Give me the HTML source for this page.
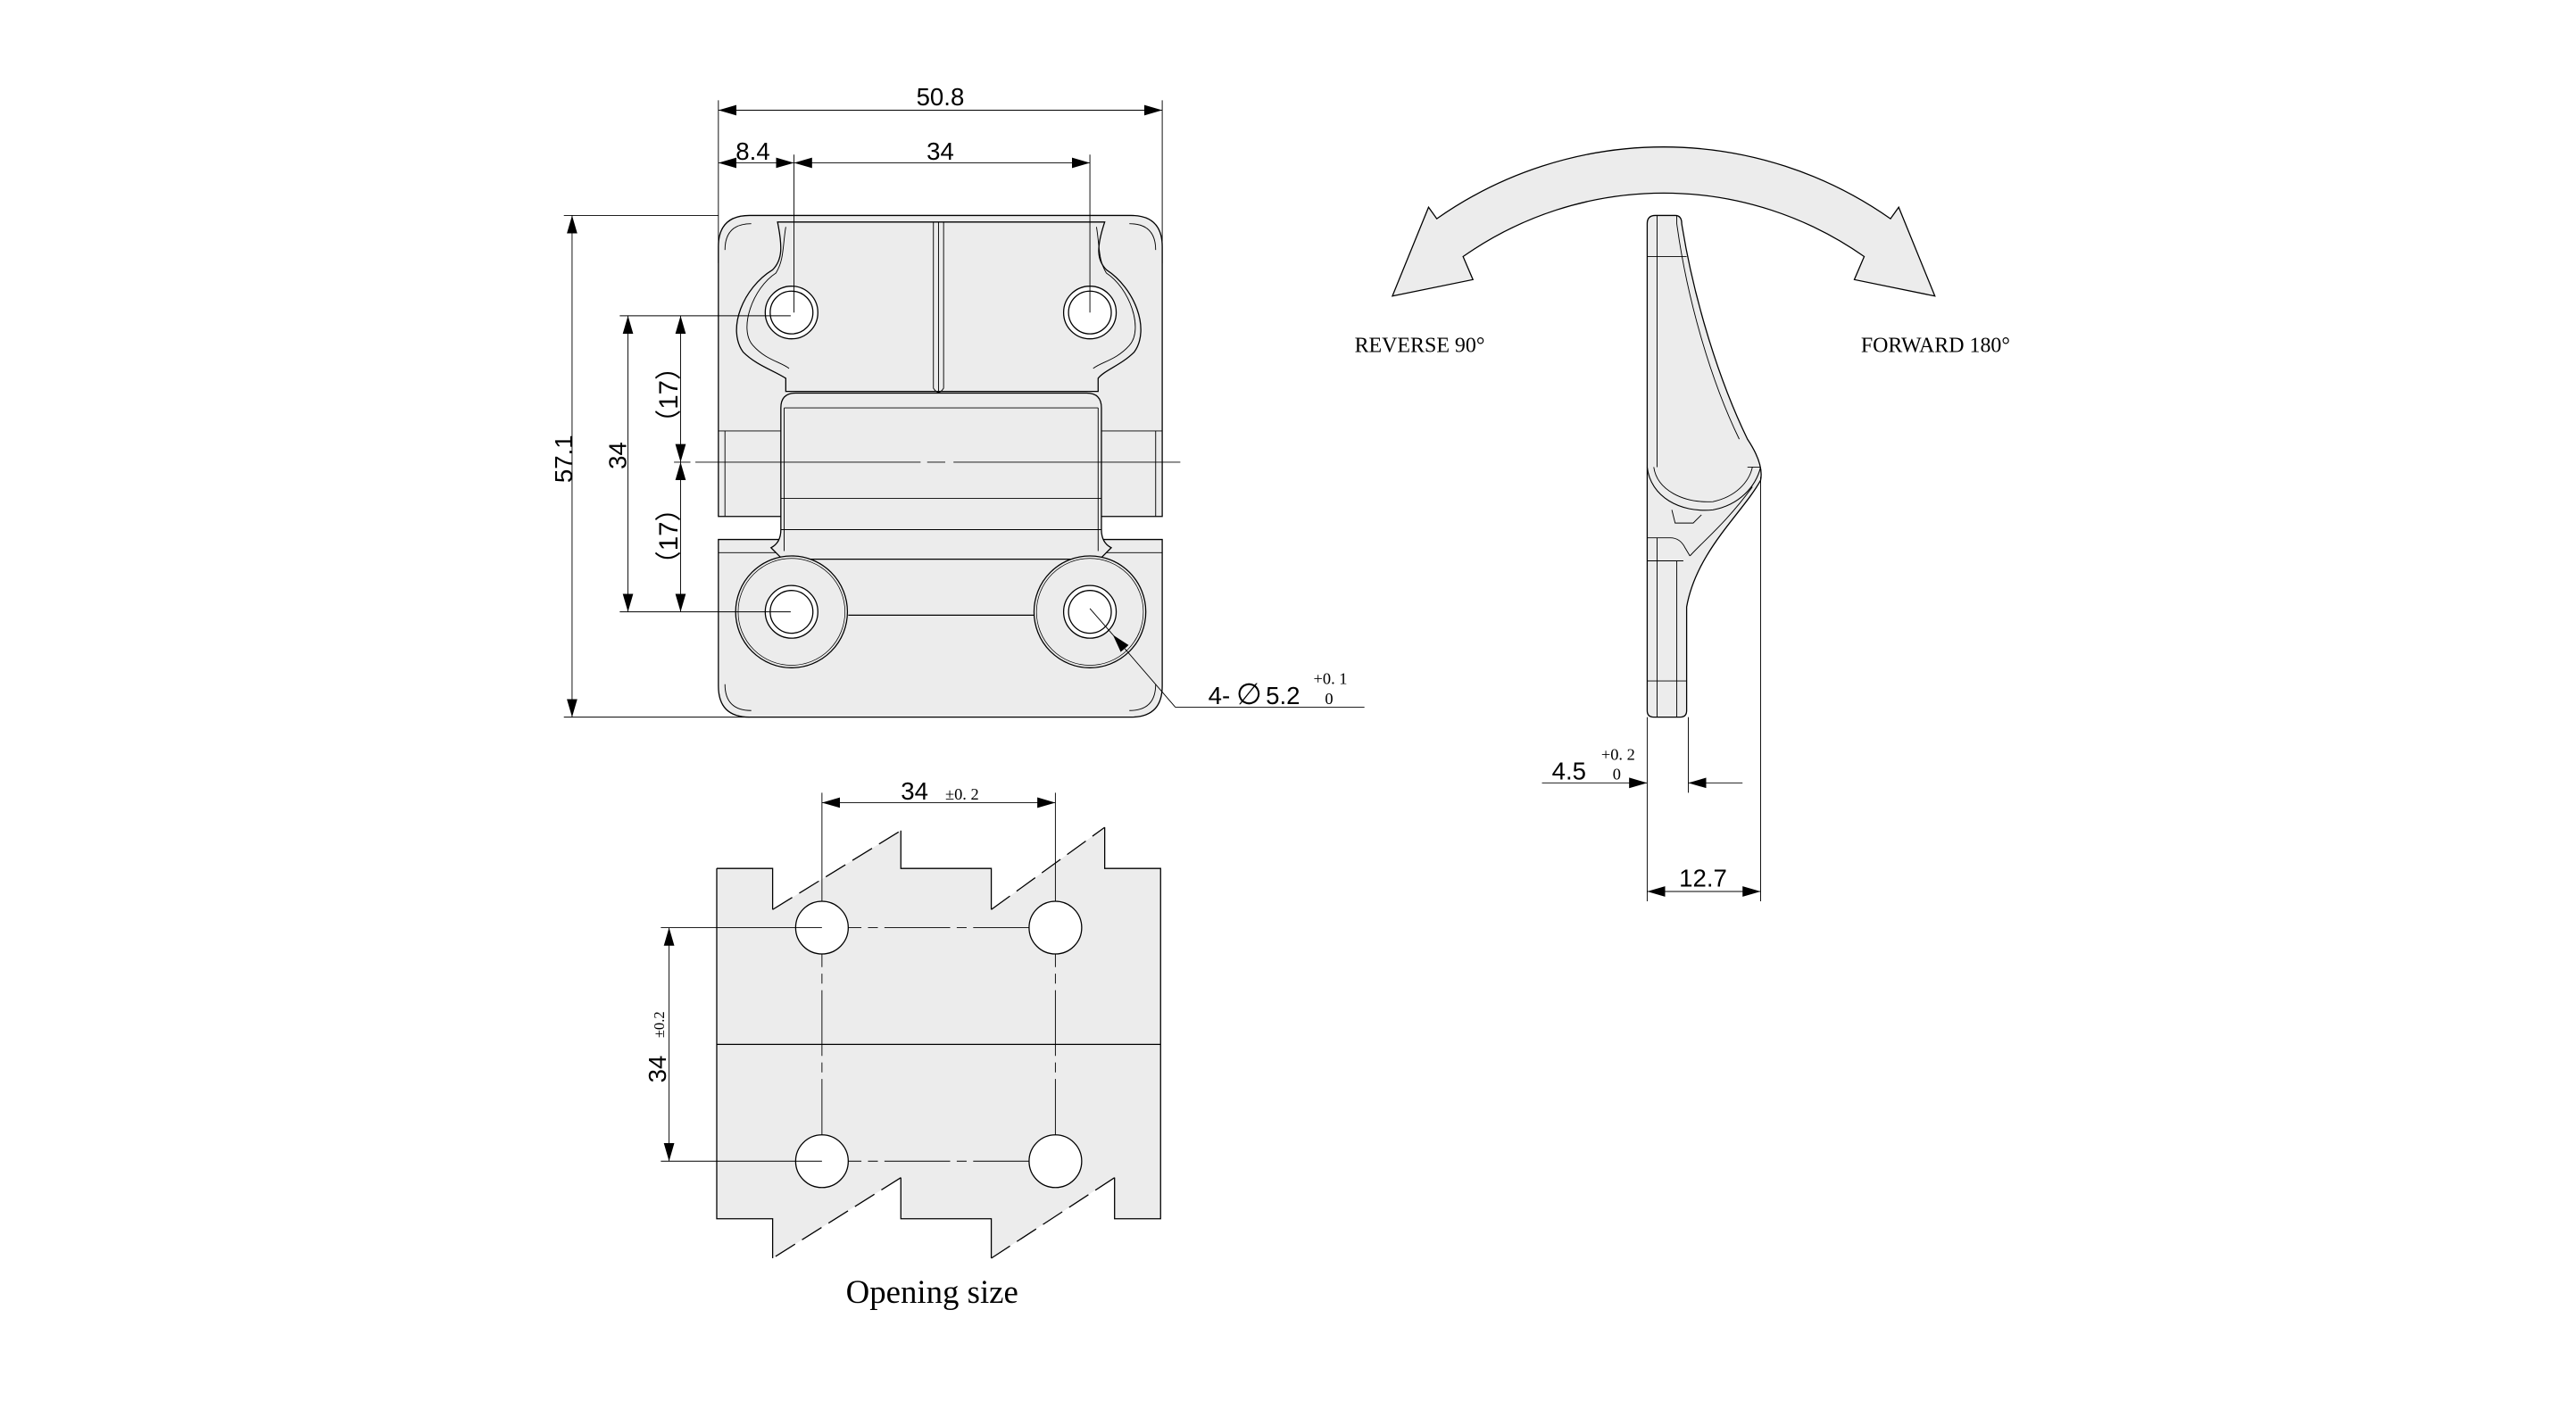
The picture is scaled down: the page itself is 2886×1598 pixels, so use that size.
<!DOCTYPE html>
<html><head><meta charset="utf-8"><style>
html,body{margin:0;padding:0;background:#fff}
svg{display:block}
text{font-family:"Liberation Sans",sans-serif;fill:#000}
.s{font-family:"Liberation Serif",serif}
</style></head><body>
<svg width="2886" height="1598" viewBox="0 0 1567 867" preserveAspectRatio="none" xmlns="http://www.w3.org/2000/svg">
<defs>
<marker id="a" markerUnits="userSpaceOnUse" markerWidth="12" markerHeight="8" refX="11" refY="4" orient="auto-start-reverse"><path d="M0,0.8 L11,4 L0,7.2Z" fill="#000"/></marker>
</defs>
<g stroke="#000" stroke-width="0.7" fill="none">
<!-- FRONT VIEW -->
<path d="M437,150 Q437,131 456,131 H688 Q707,131 707,150 V314 H437Z" fill="#ececec"/>
<path d="M437,328 H707 V417 Q707,436 688,436 H456 Q437,436 437,417Z" fill="#ececec"/>
<path d="M441,152 Q441,136 457,136 M703,152 Q703,136 687,136 M441,416 Q441,432 457,432 M703,416 Q703,432 687,432" stroke-width="0.5"/>
<path d="M437,262 H475 M669,262 H707 M441,262 V314 M703,262 V314 M437,336 H707" stroke-width="0.5"/>
<!-- upper leaf -->
<path d="M473,135 H672 C667,150 667,158 673,164 C690,175 700,200 690,214 C682,222 672,225 668,230 V238 H478 V230 C470,225 460,222 452,214 C442,200 452,175 470,164 C476,158 476,150 473,135Z" fill="#ececec"/>
<path d="M478,138 C476,150 477,158 472,166 C458,175 449,200 458,210 C466,219 475,220 480,224" stroke-width="0.5"/>
<path d="M667,138 C669,150 668,158 673,166 C687,175 696,200 687,210 C679,219 670,220 665,224" stroke-width="0.5"/>
<path d="M567.8,135 V236 Q570.9,241 574,236 V135 M570.9,135 V238" stroke-width="0.5"/>
<!-- barrel -->
<path d="M475,248 Q475,239 484,239 H661 Q670,239 670,248 V322 Q670,330 676,333 L669,340 H476 L469,333 Q475,330 475,322Z" fill="#ececec"/>
<path d="M477,248 H668 M475,303 H670 M475,322 H670 M477,248 V335 M668,248 V335" stroke-width="0.5"/>
<!-- bosses -->
<circle cx="481.5" cy="372" r="34" fill="#ececec"/><circle cx="481.5" cy="372" r="32.5" stroke-width="0.4"/>
<circle cx="663" cy="372" r="34" fill="#ececec"/><circle cx="663" cy="372" r="32.5" stroke-width="0.4"/>
<path d="M516,374 H629"/>
<circle cx="481.5" cy="190" r="16" fill="#fff"/><circle cx="481.5" cy="190" r="13"/>
<circle cx="663" cy="190" r="16" fill="#fff"/><circle cx="663" cy="190" r="13"/>
<circle cx="481.5" cy="372" r="16" fill="#fff"/><circle cx="481.5" cy="372" r="13"/>
<circle cx="663" cy="372" r="16" fill="#fff"/><circle cx="663" cy="372" r="13"/>
<!-- center line -->
<path d="M423,281 H560 M564,281 H575 M580,281 H718" stroke-width="0.5"/>
<!-- dims -->
<path d="M437,61 V160 M707,61 V160 M483,94 V190 M663,94 V190" stroke-width="0.5"/>
<path d="M437,67 H707" marker-start="url(#a)" marker-end="url(#a)" stroke-width="0.5"/>
<path d="M437,99 H483" marker-start="url(#a)" marker-end="url(#a)" stroke-width="0.5"/>
<path d="M483,99 H663" marker-start="url(#a)" marker-end="url(#a)" stroke-width="0.5"/>
<path d="M343,131 H437 M343,436 H456 M377,192 H481 M377,372 H481 M410,281 H420" stroke-width="0.5"/>
<path d="M348,131 V436" marker-start="url(#a)" marker-end="url(#a)" stroke-width="0.5"/>
<path d="M382,192 V372" marker-start="url(#a)" marker-end="url(#a)" stroke-width="0.5"/>
<path d="M414,192 V281" marker-start="url(#a)" marker-end="url(#a)" stroke-width="0.5"/>
<path d="M414,281 V372" marker-start="url(#a)" marker-end="url(#a)" stroke-width="0.5"/>
<path d="M663,370 L677,386 M715,430 H830" stroke-width="0.5"/>
<path d="M715,430 L677,386" marker-end="url(#a)" stroke-width="0.5"/>
<!-- OPENING VIEW -->
<path d="M436,528 H470 V553 L548,505 V528 H603 V553 L672,503 V528 H706 V741 H678 V716 L603,765 V741 H548 V716 L470,765 V741 H436Z" fill="#ececec" stroke="none"/>
<path d="M436,528 H470 V553 M548,505 V528 H603 V553 M672,503 V528 H706 V741 H678 V716 M603,765 V741 H548 V716 M470,765 V741 H436 V528"/>
<path d="M470,553 L548,505 M603,553 L672,503 M678,716 L603,765 M548,716 L470,765" stroke-dasharray="14,5"/>
<path d="M436,635 H706"/>
<path d="M484,564 H658 M484,706 H658 M500,548 V722 M642,548 V722" stroke-dasharray="40,4,6,4" stroke-width="0.5"/>
<circle cx="500" cy="564" r="16" fill="#fff"/><circle cx="642" cy="564" r="16" fill="#fff"/>
<circle cx="500" cy="706" r="16" fill="#fff"/><circle cx="642" cy="706" r="16" fill="#fff"/>
<path d="M500,482 V548 M642,482 V548 M402,564 H500 M402,706 H500" stroke-width="0.5"/>
<path d="M500,488 H642" marker-start="url(#a)" marker-end="url(#a)" stroke-width="0.5"/>
<path d="M407,564 V706" marker-start="url(#a)" marker-end="url(#a)" stroke-width="0.5"/>
<!-- SIDE VIEW -->
<path d="M874,133 A240,240 0 0 1 1150,133 L1155,126 L1177,180 L1128,170 L1134,156 A212,212 0 0 0 890,156 L896,170 L847,180 L869,126Z" fill="#ececec"/>
<path d="M1002,136 Q1002,131 1007,131 H1019 Q1023,131 1023,136 C1030,180 1045,230 1063,267 Q1073,282 1071,292 C1060,312 1032,335 1026,369 V432 Q1026,436 1022,436 H1006 Q1002,436 1002,432Z" fill="#ececec"/>
<path d="M1008,131 V284 M1002,156 H1026 M1020,131 V136 C1026,180 1040,230 1058,267 M1063,284 H1071" stroke-width="0.5"/>
<path d="M1002,284 C1004,302 1022,312 1042,310 C1058,307 1068,296 1071,284" stroke-width="0.6"/>
<path d="M1006,284 C1008,298 1024,306 1042,305 C1056,302 1064,293 1066,284" stroke-width="0.5"/>
<path d="M1017,310 L1019,318 H1030 L1035,313" stroke-width="0.5"/>
<path d="M1002,327 H1016 Q1022,327 1025,333 L1028,338 M1002,341 H1024 M1008,327 V436 M1020,341 V436 M1002,414 H1026" stroke-width="0.5"/>
<path d="M1028,338 C1035,330 1050,318 1066,296" stroke-width="0.5"/>
<path d="M1002,436 V548 M1071,290 V548 M1027,436 V482" stroke-width="0.5"/>
<path d="M1002,542 H1071" marker-start="url(#a)" marker-end="url(#a)" stroke-width="0.5"/>
<path d="M938,476 H1002" marker-end="url(#a)" stroke-width="0.5"/>
<path d="M1060,476 H1027" marker-end="url(#a)" stroke-width="0.5"/>
</g>
<g font-size="15">
<text x="572" y="64" text-anchor="middle">50.8</text>
<text x="458" y="97" text-anchor="middle">8.4</text>
<text x="572" y="97" text-anchor="middle">34</text>
<text transform="translate(348,279) rotate(-90)" text-anchor="middle">57.1</text>
<text transform="translate(381,277) rotate(-90)" text-anchor="middle">34</text>
<text transform="translate(412,240) rotate(-90)" text-anchor="middle" font-size="16">（17）</text>
<text transform="translate(412,326) rotate(-90)" text-anchor="middle" font-size="16">（17）</text>
<text x="735" y="428">4-</text>
<text x="752" y="428" font-size="18">∅</text>
<text x="770" y="428">5.2</text>
<text x="799" y="416" font-size="10" class="s">+0. 1</text>
<text x="806" y="428" font-size="10" class="s">0</text>
<text x="548" y="486">34</text>
<text x="575" y="486" font-size="10" class="s">±0. 2</text>
<text transform="translate(405,650) rotate(-90)" text-anchor="middle">34</text>
<text transform="translate(404,623) rotate(-90)" text-anchor="middle" font-size="9" class="s">±0.2</text>
<text x="567" y="792" text-anchor="middle" font-size="20" class="s">Opening size</text>
<text x="824" y="214" font-size="13" class="s">REVERSE 90°</text>
<text x="1132" y="214" font-size="13" class="s">FORWARD 180°</text>
<text x="944" y="474">4.5</text>
<text x="974" y="462" font-size="10" class="s">+0. 2</text>
<text x="981" y="474" font-size="10" class="s">0</text>
<text x="1036" y="539" text-anchor="middle">12.7</text>
</g>
</svg>
</body></html>
